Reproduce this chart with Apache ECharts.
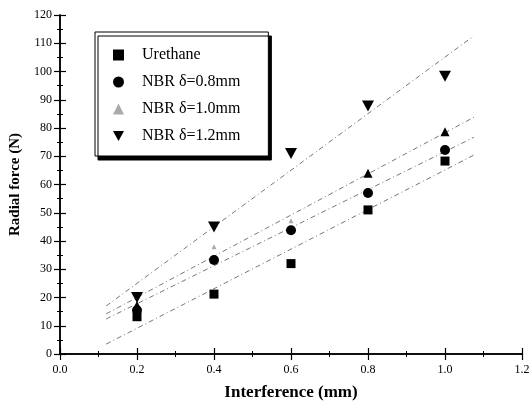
<!DOCTYPE html>
<html>
<head>
<meta charset="utf-8">
<script src="https://cdn.jsdelivr.net/npm/echarts@6/dist/echarts.min.js"></script>
<style>
html, body { margin: 0; padding: 0; background: #fff; }
#main { width: 531px; height: 404px; }
</style>
</head>
<body>
<div id="main"></div>
<script>
// interference values (mm)
var interference = [0.2, 0.4, 0.6, 0.8, 1.0];
// measured radial force (N)
var urethane = [13.2, 21.2, 32, 51, 68.3];
var nbr08 = [15.5, 33.3, 43.8, 57, 72.2];
var nbr10 = [17.2, 38, 47.2, 64, 78.7];
var nbr12 = [20, 45, 71, 87.8, 98.3];
// linear fit end points [x, y]
var fitX = [0.12, 1.075];
var fitUrethane = [3.5, 70.4];
var fitNbr08 = [12.4, 76.7];
var fitNbr10 = [14.2, 83.8];
var fitNbr12 = [17, 112.6];

var names = ['Urethane', 'NBR δ=0.8mm', 'NBR δ=1.0mm', 'NBR δ=1.2mm'];

var downTriangle = 'path://M0,0 L10,0 L5,9 Z';

function pairs(xs, ys) {
	var out = [];
	for (var i = 0; i < xs.length; i++) {
		out.push([xs[i], ys[i]]);
	}
	return out;
}

function fitSeries(ys) {
	return {
		type: 'line',
		data: pairs(fitX, ys),
		showSymbol: false,
		silent: true,
		z: 1,
		lineStyle: { color: '#777', width: 1, type: [5, 3, 1, 3] }
	};
}

// middle two marks of NBR 1.0mm are printed faint in the original
function isFaint(p) {
	return p.dataIndex == 1 || p.dataIndex == 2;
}

var font = 'Liberation Serif';
var tickStyle = { show: true, inside: true, length: 6, lineStyle: { color: '#000', width: 1.2 } };
var minorStyle = { show: true, splitNumber: 2, length: 3, lineStyle: { color: '#000', width: 1 } };

var myChart = echarts.init(document.getElementById('main'));
var option = {
	animation: false,
	backgroundColor: '#fff',
	grid: { left: 60, right: 9, top: 15, bottom: 50, outerBoundsMode: 'none' },
	legend: {
		data: [
			{ name: names[0], icon: 'rect', itemStyle: { color: '#000' } },
			{ name: names[1], icon: 'circle', itemStyle: { color: '#000' } },
			{ name: names[2], icon: 'triangle', itemStyle: { color: '#aaa' } },
			{ name: names[3], icon: downTriangle, itemStyle: { color: '#000' } }
		],
		orient: 'vertical',
		left: 95,
		top: 32,
		padding: [15, 28, 12, 18],
		itemGap: 11,
		itemWidth: 11,
		itemHeight: 11,
		backgroundColor: '#fff',
		borderColor: '#000',
		borderWidth: 1,
		shadowColor: '#000',
		shadowOffsetX: 3,
		shadowOffsetY: 4,
		shadowBlur: 0,
		textStyle: { fontFamily: font, fontSize: 16, lineHeight: 16, color: '#000', padding: [0, 0, 0, 13] }
	},
	xAxis: [{
		type: 'value',
		min: 0,
		max: 1.2,
		interval: 0.2,
		name: 'Interference (mm)',
		nameLocation: 'middle',
		nameGap: 30,
		nameTextStyle: { fontFamily: font, fontSize: 17, fontWeight: 'bold', color: '#000' },
		axisLine: { lineStyle: { color: '#000', width: 1.5 } },
		axisTick: tickStyle,
		minorTick: minorStyle,
		splitLine: { show: false },
		axisLabel: {
			fontFamily: font, fontSize: 12, color: '#000', margin: 10,
			formatter: function (v) { return v.toFixed(1); }
		}
	}, {
		type: 'value',
		position: 'top',
		min: 0,
		max: 1.2,
		interval: 0.2,
		axisLine: { lineStyle: { color: '#000', width: 1.5 } },
		axisTick: tickStyle,
		minorTick: minorStyle,
		splitLine: { show: false },
		axisLabel: { show: false }
	}],
	yAxis: [{
		type: 'value',
		min: 0,
		max: 120,
		interval: 10,
		name: 'Radial force (N)',
		nameLocation: 'middle',
		nameGap: 32,
		nameTextStyle: { fontFamily: font, fontSize: 15, fontWeight: 'bold', color: '#000' },
		axisLine: { show: true, lineStyle: { color: '#000', width: 1.5 } },
		axisTick: tickStyle,
		minorTick: minorStyle,
		splitLine: { show: false },
		axisLabel: { fontFamily: font, fontSize: 12, color: '#000', margin: 8 }
	}, {
		type: 'value',
		position: 'right',
		min: 0,
		max: 120,
		interval: 10,
		axisLine: { show: true, lineStyle: { color: '#000', width: 1.5 } },
		axisTick: tickStyle,
		minorTick: minorStyle,
		splitLine: { show: false },
		axisLabel: { show: false }
	}],
	series: [
		fitSeries(fitUrethane),
		fitSeries(fitNbr08),
		fitSeries(fitNbr10),
		fitSeries(fitNbr12),
		{
			name: names[0],
			type: 'scatter',
			symbol: 'rect',
			symbolSize: 9,
			itemStyle: { color: '#000', opacity: 1 },
			data: pairs(interference, urethane),
			z: 3
		}, {
			name: names[1],
			type: 'scatter',
			symbol: 'circle',
			symbolSize: 10,
			itemStyle: { color: '#000', opacity: 1 },
			data: pairs(interference, nbr08),
			z: 3
		}, {
			name: names[2],
			type: 'scatter',
			symbol: 'triangle',
			symbolSize: function (v, p) { return isFaint(p) ? 5 : 9; },
			itemStyle: {
				color: function (p) { return isFaint(p) ? '#aaa' : '#000'; },
				opacity: 1
			},
			data: pairs(interference, nbr10),
			z: 3
		}, {
			name: names[3],
			type: 'scatter',
			symbol: downTriangle,
			symbolSize: [12, 11],
			itemStyle: { color: '#000', opacity: 1 },
			data: pairs(interference, nbr12),
			z: 3
		}
	]
};
myChart.setOption(option);
</script>
</body>
</html>
